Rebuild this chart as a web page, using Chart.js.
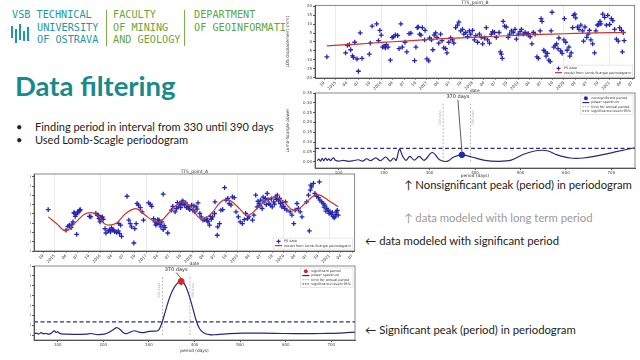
<!DOCTYPE html>
<html><head><meta charset="utf-8">
<script src="https://cdn.jsdelivr.net/npm/chart.js@4/dist/chart.umd.min.js"></script>
<style>
html,body{margin:0;padding:0;background:#fff;}
body{width:640px;height:360px;position:relative;overflow:hidden;font-family:Lato,'Open Sans',sans-serif;}
.abs{position:absolute;white-space:nowrap;}
.hdr{font-family:'DejaVu Sans Mono',monospace;font-size:10.2px;line-height:12.7px;}
.sep{position:absolute;width:1px;background:#7bb04a;}
.bar{position:absolute;width:1.6px;background:#1f98a6;}
.box{position:absolute;overflow:hidden;}
canvas{position:absolute;}
</style></head><body>

<div class="hdr abs" style="left:12px;top:9px;color:#1f98a6">VSB TECHNICAL</div>
<div class="hdr abs" style="left:37px;top:21.7px;color:#1f98a6">UNIVERSITY<br>OF OSTRAVA</div>
<div class="bar" style="left:11px;top:26px;height:12px"></div>
<div class="bar" style="left:15px;top:29px;height:14px"></div>
<div class="bar" style="left:19px;top:24px;height:16px"></div>
<div class="bar" style="left:23px;top:31px;height:10px"></div>
<div class="bar" style="left:27px;top:27px;height:14px"></div>
<div class="sep" style="left:106px;top:10px;height:36px"></div>
<div class="hdr abs" style="left:113px;top:9px;color:#6aa63e">FACULTY<br>OF MINING<br>AND GEOLOGY</div>
<div class="sep" style="left:184px;top:10px;height:36px"></div>
<div class="hdr abs" style="left:194px;top:9px;color:#5fa544">DEPARTMENT<br>OF GEOINFORMATI</div>

<div class="abs" style="left:15px;top:69px;font-size:27.5px;font-weight:bold;color:#178a8c;line-height:34px">Data filtering</div>
<div class="abs" style="left:16px;top:120px;font-size:11px;line-height:13px;color:#222">•</div>
<div class="abs" style="left:35px;top:120px;font-size:11px;line-height:13px;color:#222">Finding period in interval from 330 until 390 days</div>
<div class="abs" style="left:16px;top:133px;font-size:11px;line-height:13px;color:#222">•</div>
<div class="abs" style="left:35px;top:133px;font-size:11px;line-height:13px;color:#222">Used Lomb-Scagle periodogram</div>

<div class="abs" style="left:404px;top:178px;font-size:11.3px;line-height:14px;color:#222">↑ Nonsignificant peak (period) in periodogram</div>
<div class="abs" style="left:404px;top:211px;font-size:11.3px;line-height:14px;color:#9a9a9a">↑ data modeled with long term period</div>
<div class="abs" style="left:365px;top:234px;font-size:11.3px;line-height:14px;color:#222">← data modeled with significant period</div>
<div class="abs" style="left:365px;top:323px;font-size:11.3px;line-height:14px;color:#222">← Significant peak (period) in periodogram</div>

<canvas id="cA" width="355" height="93" style="left:285px;top:0px"></canvas>
<canvas id="cB" width="355" height="90" style="left:285px;top:88px"></canvas>
<div class="box" style="left:30px;top:168px;width:330px;height:98px"><canvas id="cC" width="346" height="98" style="left:-16px;top:0"></canvas></div>
<div class="box" style="left:30px;top:258px;width:330px;height:96px"><canvas id="cD" width="346" height="95" style="left:-16px;top:0"></canvas></div>

<script>
// ---------- DATA ----------
const dateTicks = [2014.75,2015,2015.25,2015.5,2015.75,2016,2016.25,2016.5,2016.75,2017,2017.25,2017.5,2017.75,2018,2018.25,2018.5,2018.75,2019,2019.25,2019.5,2019.75,2020,2020.25,2020.5,2020.75,2021,2021.25,2021.5];
const dateTickLabels = ['10','2015','04','07','10','2016','04','07','10','2017','04','07','10','2018','04','07','10','2019','04','07','10','2020','04','07','10','2021','04','07'];
const losTicks = [-20,-15,-10,-5,0,5,10,15,20];
const periodTicks = [100,200,300,400,500,600,700];
const powerTicks = [0,0.05,0.10,0.15,0.20,0.25,0.30,0.35];
const dateRange = [2014.55, 2021.55];
const periodRange = [48, 752];
const annualLimits = [330, 390];

// TTS_point_B (top right, long term period)
const psDatesB = [2014.81,2015.22,2015.26,2015.30,2015.33,2015.37,2015.39,2015.42,2015.47,2015.50,
2015.54,2015.58,2015.74,2015.76,2015.80,2015.90,2015.94,2015.97,2016.00,2016.03,
2016.06,2016.09,2016.11,2016.15,2016.20,2016.24,2016.27,2016.31,2016.36,2016.39,
2016.43,2016.46,2016.52,2016.56,2016.61,2016.65,2016.73,2016.76,2016.79,2016.81,
2016.84,2016.87,2016.90,2016.95,2016.96,2017.00,2017.04,2017.06,2017.10,2017.13,
2017.16,2017.19,2017.22,2017.26,2017.30,2017.33,2017.37,2017.41,2017.44,2017.48,
2017.52,2017.56,2017.59,2017.63,2017.67,2017.70,2017.74,2017.78,2017.81,2017.85,
2017.89,2017.93,2017.96,2018.00,2018.04,2018.07,2018.11,2018.15,2018.19,2018.22,
2018.26,2018.30,2018.33,2018.37,2018.41,2018.44,2018.48,2018.52,2018.58,2018.61,
2018.63,2018.65,2018.67,2018.70,2018.74,2018.78,2018.81,2018.85,2018.89,2018.93,
2018.96,2019.00,2019.04,2019.07,2019.11,2019.15,2019.19,2019.22,2019.26,2019.30,
2019.33,2019.37,2019.41,2019.44,2019.48,2019.50,2019.52,2019.56,2019.59,2019.61,
2019.64,2019.67,2019.70,2019.74,2019.72,2019.78,2019.81,2019.84,2019.87,2019.89,
2019.93,2019.96,2020.00,2020.01,2020.04,2020.07,2020.11,2020.13,2020.16,2020.19,
2020.21,2020.24,2020.26,2020.30,2020.33,2020.37,2020.41,2020.43,2020.46,2020.50,
2020.53,2020.56,2020.59,2020.63,2020.67,2020.70,2020.73,2020.76,2020.79,2020.81,
2020.85,2020.89,2020.93,2020.96,2021.00,2021.04,2021.07,2021.11,2021.15,2021.19,
2021.22,2021.26,2021.28,2021.30,2021.32];
const psLosB = [-8.4,-6.2,-2.0,-1.5,-4.4,-7.8,-8.7,-0.2,-9.6,-16.5,
5.1,-9.3,-6.9,-0.7,8.9,10.2,0.7,6.5,3.8,-2.9,
-2.4,-3.3,-1.6,-2.9,-10.2,2.5,2.9,4.0,3.6,-3.8,
10.2,-2.9,-0.2,-5.6,4.7,4.9,-10.5,-2.9,8.0,8.4,
4.4,3.8,8.0,1.1,6.5,-9.5,-10.7,2.2,1.1,-4.4,
3.8,5.1,2.5,-0.7,4.4,0.7,-3.3,-3.8,-6.2,-0.2,
2.2,1.1,-0.7,8.0,9.5,11.1,6.2,7.1,4.4,5.3,
2.9,6.2,4.4,6.5,1.1,3.5,-0.2,4.4,2.5,-1.1,
2.2,8.0,1.1,-0.7,4.4,5.8,5.3,2.5,5.3,-5.6,
-6.9,-9.3,11.6,8.9,8.4,2.5,4.4,6.2,5.3,7.1,
1.6,4.4,5.8,7.1,4.4,5.3,4.4,4.7,2.9,-1.1,
5.3,4.4,-8.4,-9.3,6.2,13.1,11.6,-4.7,-5.6,-8.0,
-6.5,-10.2,-11.1,16.7,6.2,-2.9,-2.0,-1.1,-3.8,2.2,
-5.1,-6.5,1.1,13.1,-0.2,-4.7,-2.9,-8.0,-6.2,8.0,
14.9,15.6,13.5,8.4,7.1,9.5,6.2,0.4,8.4,2.5,
4.4,6.5,1.1,-1.1,-6.2,6.2,9.5,9.8,11.6,10.2,
15.6,13.8,9.5,14.9,9.8,13.1,12.0,7.1,1.6,0.4,
8.0,6.5,-5.6,5.3,0.7];
const modelDatesB = [2014.81,2015.5,2016.0,2016.5,2017.0,2017.5,2018.0,2018.5,2019.0,2019.5,2020.0,2020.5,2021.0,2021.33];
const modelLosB = [-2.2,-1.2,-0.3,0.5,1.3,2.0,2.6,3.2,3.7,4.2,4.6,5.0,5.2,5.3];

const periodB = [53.0,56.6,60.2,63.8,67.5,71.1,74.7,78.3,81.9,85.5,89.2,92.8,100,110.8,121.7,132.5,143.4,152.8,161.5,170.1,181.7,191.8,203.4,213.5,220.8,226.5,233.8,241.0,248.2,256.9,266.3,277.2,288.0,306.1,322.0,338.6,353.1,371.2,392.8,421.8,450.7,479.6,508.5,533.8,559.1,580.8,609.8,638.7,667.6,711.0,750.8];
const powerB = [0.005,0.0135,0.003,0.017,0.005,0.019,0.007,0.015,0.005,0.0135,0.020,0.007,0.003,0.007,0.002,0.005,0.010,0.003,0.015,0.005,0.020,0.005,0.024,0.003,0.019,0.007,0.064,0.027,0.007,0.027,0.008,0.027,0.007,0.047,0.010,0.002,0.024,0.035,0.024,0.007,0.002,0.008,0.039,0.056,0.056,0.035,0.019,0.019,0.030,0.051,0.071];
const peakB = {period:371.2, power:0.035, label:'370 days'};
const significanceB = 0.068;

// TTS_point_A (left, significant annual period)
const psDatesA = [2014.86,2015.25,2015.29,2015.32,2015.36,2015.40,2015.42,2015.45,2015.48,2015.50,
2015.54,2015.56,2015.43,2015.47,2015.53,2015.55,2015.76,2015.79,2015.90,2015.94,
2015.97,2016.01,2016.03,2016.04,2015.99,2016.12,2016.17,2016.20,2016.22,2016.26,
2016.29,2016.35,2016.39,2016.42,2016.46,2016.40,2016.44,2016.58,2016.62,2016.65,
2016.68,2016.73,2016.75,2016.78,2016.80,2016.83,2016.87,2016.91,2016.94,2017.05,
2017.09,2017.12,2017.16,2017.19,2017.23,2017.25,2017.28,2017.30,2017.32,2017.34,
2017.37,2017.41,2017.47,2017.37,2017.55,2017.63,2017.66,2017.70,2017.73,2017.77,
2017.78,2017.83,2017.88,2017.91,2017.95,2017.99,2018.02,2018.06,2018.09,2018.13,
2018.17,2018.20,2018.24,2018.27,2018.31,2018.35,2018.38,2018.40,2018.45,2018.49,
2018.50,2018.55,2018.56,2018.60,2018.63,2018.67,2018.71,2018.74,2018.78,2018.81,
2018.85,2018.88,2018.92,2018.96,2019.01,2019.05,2019.10,2019.14,2019.17,2019.21,
2019.24,2019.32,2019.35,2019.39,2019.42,2019.46,2019.50,2019.53,2019.57,2019.60,
2019.64,2019.68,2019.71,2019.75,2019.78,2019.82,2019.86,2019.89,2019.93,2019.96,
2020.00,2020.04,2020.07,2020.14,2020.18,2020.22,2020.25,2020.29,2020.32,2020.36,
2020.40,2020.50,2020.54,2020.56,2020.58,2020.59,2020.61,2020.65,2020.68,2020.72,
2020.76,2020.78,2020.79,2020.83,2020.86,2020.90,2020.94,2020.97,2021.01,2021.04,
2021.08,2021.12,2021.15,2021.19,2017.58,2017.68,2017.75,2017.80,2017.86,2017.93,
2018.04,2018.11,2019.44,2019.48,2019.55,2019.62,2019.66,2019.73,2019.80,2019.84,
2019.91,2019.98,2020.02,2020.88,2020.92,2020.99,2021.06,2021.10,2021.14,2021.17,
2016.10,2016.24,2016.31,2017.21,2017.26,2017.39,2018.33,2018.42,2015.38,2015.96,2016.06];
const psLosA = [2.3,-8.8,-6.7,-6.1,-7.4,-4.3,0.5,-1.3,-11.0,1.1,
1.6,2.3,0.5,-0.4,1.1,2.0,-1.3,-1.6,0.2,-0.7,
-2.5,-3.1,-2.0,-1.6,-4.3,-10.3,-9.2,-8.8,-9.7,-8.5,
-8.8,-9.9,-9.2,-10.6,-12.1,-5.2,-6.1,9.5,-3.4,-5.2,
-7.0,-15.7,-7.9,-5.2,5.6,4.7,3.4,1.1,-3.4,5.9,
5.2,4.1,-2.5,-4.3,-5.2,-3.1,-3.4,-5.6,-7.0,-4.3,
-8.5,-7.4,-10.3,10.6,2.0,1.1,2.9,3.8,5.6,6.5,
5.2,4.7,3.4,4.1,2.3,4.7,2.0,1.1,3.8,5.9,
0.2,-1.6,-3.4,-3.1,-2.5,-4.3,-6.1,-1.3,-1.6,0.2,
6.5,-11.5,-7.0,-5.2,2.0,2.3,14.2,7.4,8.3,5.6,
4.7,9.2,8.8,1.1,-1.6,-4.3,-5.2,-3.1,0.2,-2.5,
-1.6,-3.4,-0.7,10.1,3.8,5.6,7.4,2.9,6.5,8.3,
11.0,5.6,4.7,3.8,6.5,9.2,10.1,7.0,5.6,3.8,
4.1,6.5,2.0,1.1,-0.7,-5.2,2.0,5.6,2.9,1.1,
-1.6,6.5,10.1,-9.2,12.8,15.5,14.6,16.4,11.0,9.5,
8.8,17.3,7.4,6.5,5.6,4.7,2.9,2.0,1.1,-0.2,
-1.3,-1.6,1.1,-0.7,4.1,6.1,3.4,7.0,5.9,3.1,
4.3,2.6,6.8,4.5,9.0,5.0,7.7,8.1,5.3,7.9,
8.4,6.2,3.0,3.6,1.5,0.3,0.8,-2.2,-0.3,1.9,
-8.0,-7.5,-9.5,-6.0,-4.8,-6.3,-3.7,-2.9,-5.5,-1.0,-2.9];
const modelDatesA = [2014.86,2015.04,2015.25,2015.47,2015.65,2015.79,2015.94,2016.08,2016.19,2016.35,2016.55,2016.73,2016.83,2016.98,2017.16,2017.30,2017.48,2017.70,2017.81,2017.99,2018.13,2018.24,2018.42,2018.63,2018.78,2018.96,2019.14,2019.24,2019.42,2019.64,2019.82,2020.00,2020.18,2020.29,2020.50,2020.68,2020.79,2020.97,2021.19];
const modelLosA = [-1.6,-5.2,-9.2,-4.3,-0.2,0.7,-0.7,-5.2,-6.1,-4.9,0.2,2.7,2.3,-0.7,-3.8,-4.3,0.2,5.6,6.5,3.4,-1.6,-3.1,0.2,6.5,7.7,4.7,0.2,-0.7,2.9,7.7,9.2,6.5,2.3,2.0,6.5,10.1,10.1,7.4,3.8];

const periodA = [48,52.5,58.3,63.4,68.5,74.4,81.7,89.0,92.7,96.3,100,105,118.3,140.2,162.2,173.2,184.1,202.4,213.4,222.2,229.5,236.8,244.1,251.4,260.9,268.3,275.6,286.5,297.5,308.5,319.5,325.3,330.4,337.7,345.1,352.4,359.7,367.0,370.7,375.8,381.6,387.5,392.6,398.5,403.6,410.9,419.7,432.8,447.5,476.7,506.0,549.9,593.8,637.7,681.6,718.1,752];
const powerA = [0.005,0.010,0.005,0.012,0.007,0.008,0.005,0.015,0.022,0.013,0.017,0.007,0.005,0.003,0.005,0.008,0.003,0.005,0.015,0.028,0.038,0.028,0.012,0.007,0.017,0.022,0.017,0.012,0.017,0.020,0.022,0.042,0.075,0.133,0.188,0.228,0.255,0.270,0.272,0.267,0.242,0.205,0.167,0.117,0.075,0.033,0.012,0.002,0.002,0.007,0.010,0.010,0.008,0.007,0.008,0.010,0.015];
const peakA = {period:370.7, power:0.272, label:'370 days'};
const significanceA = 0.067;

// ---------- STYLE ----------
const C_PS = '#2626b4', C_MODEL = '#c8372d', C_SPEC = '#27277e', C_SIG = '#2c2c8c', C_LIM = '#a8a8a8';
Chart.defaults.font.family = 'DejaVu Sans';
Chart.defaults.color = '#333';

const deco = {
  id:'deco',
  afterDraw(chart, args, o){
    const ctx = chart.ctx, a = chart.chartArea, xs = chart.scales.x, ys = chart.scales.y;
    ctx.save();
    ctx.strokeStyle = '#555'; ctx.lineWidth = 0.7;
    ctx.strokeRect(a.left, a.top, a.right - a.left, a.bottom - a.top);
    if (o.title){
      ctx.fillStyle = '#333'; ctx.font = '4.5px "DejaVu Sans"';
      ctx.textAlign = 'center'; ctx.textBaseline = 'bottom';
      ctx.fillText(o.title, (a.left + a.right)/2, a.top - 0.3);
    }
    if (o.limits){
      ctx.fillStyle = '#b0b0b0'; ctx.font = '3.4px "DejaVu Sans"';
      o.limits.forEach(l => {
        const px = xs.getPixelForValue(l.value);
        ctx.save(); ctx.translate(px + l.dx, a.top + (a.bottom - a.top)*0.33);
        ctx.rotate(-Math.PI/2); ctx.textAlign = 'center'; ctx.textBaseline = 'middle';
        ctx.fillText(l.text, 0, 0); ctx.restore();
      });
    }
    if (o.peak){
      const px = xs.getPixelForValue(o.peak.period), py = ys.getPixelForValue(o.peak.power);
      const tx = px + o.peak.dx, ty = a.top + o.peak.dy;
      ctx.fillStyle = '#222'; ctx.font = '5px "DejaVu Sans"';
      ctx.textAlign = 'center'; ctx.textBaseline = 'middle';
      ctx.fillText(o.peak.label, tx, ty);
      ctx.strokeStyle = '#333'; ctx.lineWidth = 0.8;
      ctx.beginPath(); ctx.moveTo(tx, ty + 3); ctx.lineTo(px, py - 3); ctx.stroke();
    }
    if (o.legend){
      const L = o.legend; ctx.font = '3.4px "DejaVu Sans"';
      const lh = 4.2;
      const w = Math.max(...L.items.map(i => ctx.measureText(i.text).width)) + 13;
      const h = L.items.length*lh + 2.5;
      const x0 = a.right - w - 2;
      const y0 = L.pos === 'br' ? a.bottom - h - 2 : a.top + 2;
      ctx.fillStyle = 'rgba(255,255,255,0.9)'; ctx.fillRect(x0, y0, w, h);
      ctx.strokeStyle = '#d0d0d0'; ctx.lineWidth = 0.5; ctx.strokeRect(x0, y0, w, h);
      L.items.forEach((it, i) => {
        const cy = y0 + 1.25 + lh*(i + 0.5), mx = x0 + 5.5;
        ctx.strokeStyle = it.color; ctx.fillStyle = it.color;
        if (it.type === 'cross'){
          ctx.lineWidth = 1.2; ctx.beginPath();
          ctx.moveTo(mx - 2, cy); ctx.lineTo(mx + 2, cy); ctx.moveTo(mx, cy - 2); ctx.lineTo(mx, cy + 2); ctx.stroke();
        } else if (it.type === 'dot'){
          ctx.beginPath(); ctx.arc(mx, cy, 2, 0, Math.PI*2); ctx.fill();
        } else {
          ctx.lineWidth = it.type === 'dash' ? 1 : 1.2;
          ctx.setLineDash(it.type === 'dash' ? [1.5, 1] : []);
          ctx.beginPath(); ctx.moveTo(mx - 3.5, cy); ctx.lineTo(mx + 3.5, cy); ctx.stroke();
          ctx.setLineDash([]);
        }
        ctx.fillStyle = '#333'; ctx.textAlign = 'left'; ctx.textBaseline = 'middle';
        ctx.fillText(it.text, x0 + 11, cy);
      });
    }
    ctx.restore();
  }
};
Chart.register(deco);

function yAxis(min, max, ticks, title, width, fmt){
  return {
    type:'linear', min, max,
    afterBuildTicks: s => { s.ticks = ticks.map(v => ({value:v})); },
    afterFit: s => { s.width = width; },
    ticks:{font:{size:4}, color:'#444', padding:1, callback: fmt},
    grid:{drawOnChartArea:false, tickLength:2, tickColor:'#555'},
    border:{color:'#555'},
    title:{display:true, text:title, font:{size:4.3}, padding:0, color:'#333'}
  };
}

function scatterChart(id, dates, los, mDates, mLos, title, dims){
  return new Chart(document.getElementById(id), {
    type:'scatter',
    data:{datasets:[
      {label:'PS data', data: dates.map((d,i)=>({x:d, y:los[i]})), pointStyle:'cross',
       pointRadius:2.4, borderColor:C_PS, backgroundColor:C_PS, borderWidth:1.3, pointBorderWidth:1.3, order:2},
      {label:'model', data: mDates.map((d,i)=>({x:d, y:mLos[i]})), showLine:true, pointRadius:0,
       borderColor:C_MODEL, borderWidth:1.2, tension:0.4, order:1}
    ]},
    options:{
      responsive:false, animation:false, devicePixelRatio:1,
      layout:{padding:{top:dims.top, right:dims.right, left:0, bottom:0}},
      plugins:{legend:{display:false}, tooltip:{enabled:false}, title:{display:false},
        deco:{title, legend:{pos:'br', items:[
          {type:'cross', color:C_PS, text:'PS data'},
          {type:'line', color:C_MODEL, text:'model from Lomb-Scargle periodogram'}]}}},
      scales:{
        x:{type:'linear', min:dateRange[0], max:dateRange[1],
          afterBuildTicks: s => { s.ticks = dateTicks.map(v => ({value:v})); },
          afterFit: s => { s.height = dims.xh; },
          ticks:{autoSkip:false, minRotation:45, maxRotation:45, font:{size:4}, color:'#444', padding:0.5,
            callback: v => dateTickLabels[dateTicks.indexOf(v)]},
          grid:{color: c => (c.tick && Number.isInteger(c.tick.value)) ? '#dcdcdc' : 'rgba(0,0,0,0)',
            lineWidth:0.6, tickColor:'#555', tickLength:2},
          border:{color:'#555'},
          title:{display:true, text:'date', font:{size:4.3}, padding:0, color:'#333'}},
        y: yAxis(dims.ymin, dims.ymax, losTicks, 'LOS displacement (mm)', dims.yw, v => String(v))
      }
    }
  });
}

function periodChart(id, period, power, sig, peak, peakColor, peakText, dims){
  const lim = annualLimits.map(v => ({data:[{x:v, y:0}, {x:v, y:0.30}], showLine:true, pointRadius:0,
      borderColor:C_LIM, borderWidth:0.8, borderDash:[2,1.5], order:4}));
  return new Chart(document.getElementById(id), {
    type:'scatter',
    data:{datasets:[
      {data:[{x:peak.period, y:peak.power}], pointRadius:dims.pr, pointStyle:'circle', backgroundColor:peakColor, borderColor:peakColor, order:0},
      {data: period.map((p,i)=>({x:p, y:power[i]})), showLine:true, pointRadius:0, borderColor:C_SPEC,
       borderWidth:1.2, tension:0.35, order:2},
      {data:[{x:periodRange[0], y:sig}, {x:periodRange[1], y:sig}], showLine:true, pointRadius:0,
       borderColor:C_SIG, borderWidth:1.3, borderDash:[4,2.5], order:3},
      ...lim
    ]},
    options:{
      responsive:false, animation:false, devicePixelRatio:1,
      layout:{padding:{top:dims.top, right:dims.right, left:0, bottom:0}},
      plugins:{legend:{display:false}, tooltip:{enabled:false}, title:{display:false},
        deco:{
          limits:[{value:annualLimits[0], dx:-3, text:annualLimits[0]+' days'},{value:annualLimits[1], dx:3, text:annualLimits[1]+' days'}],
          peak:{period:peak.period, power:peak.power, label:peak.label, dx:dims.pdx, dy:dims.pdy},
          legend:{pos:'tr', items:[
            {type:'dot', color:peakColor, text:peakText},
            {type:'line', color:C_SPEC, text:'power spectrum'},
            {type:'dash', color:C_LIM, text:'limit for annual period'},
            {type:'dash', color:C_SIG, text:'significance level=95%'}]}}},
      scales:{
        x:{type:'linear', min:periodRange[0], max:periodRange[1],
          afterBuildTicks: s => { s.ticks = periodTicks.map(v => ({value:v})); },
          afterFit: s => { s.height = dims.xh; },
          ticks:{autoSkip:false, maxRotation:0, font:{size:4}, color:'#444', padding:1},
          grid:{drawOnChartArea:false, tickLength:2, tickColor:'#555'},
          border:{color:'#555'},
          title:{display:true, text:'period (days)', font:{size:4.3}, padding:0, color:'#333'}},
        y: yAxis(dims.ymin, 0.35, powerTicks, 'Lomb-Scargle power', dims.yw, v => v.toFixed(2))
      }
    }
  });
}

scatterChart('cA', psDatesB, psLosB, modelDatesB, modelLosB, 'TTS_point_B',
  {top:4, right:5, xh:15, yw:30, ymin:-20.3, ymax:20.6});
periodChart('cB', periodB, powerB, significanceB, peakB, '#1c2ab4', 'nonsignificant period',
  {top:5, right:3, xh:10, yw:30, ymin:-0.032, pdx:-4, pdy:4, pr:2.8});
scatterChart('cC', psDatesA, psLosA, modelDatesA, modelLosA, 'TTS_point_A',
  {top:6, right:5, xh:15, yw:20, ymin:-20, ymax:21.5});
periodChart('cD', periodA, powerA, significanceA, peakA, '#d42a2a', 'significant period',
  {top:8, right:5, xh:13, yw:20, ymin:-0.025, pdx:-5, pdy:3.5, pr:3});
</script>
</body></html>
